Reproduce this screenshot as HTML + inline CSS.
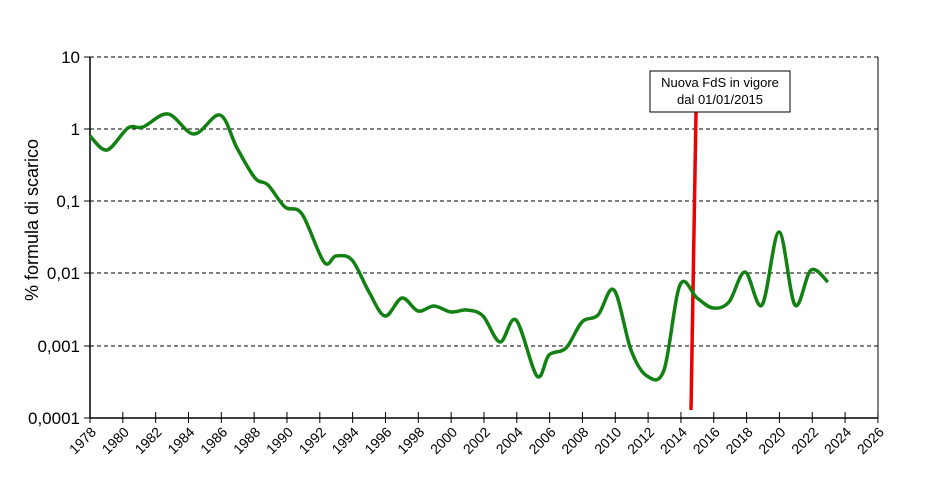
<!DOCTYPE html>
<html><head><meta charset="utf-8"><style>
body{margin:0;background:#fff;width:936px;height:492px;overflow:hidden}
text{font-family:"Liberation Sans",sans-serif}
</style></head><body>
<svg width="936" height="492" xmlns="http://www.w3.org/2000/svg">
<g stroke="#000" stroke-width="1" stroke-dasharray="4,3">
<line x1="90" y1="57" x2="878" y2="57"/>
<line x1="90" y1="129" x2="878" y2="129"/>
<line x1="90" y1="201" x2="878" y2="201"/>
<line x1="90" y1="273" x2="878" y2="273"/>
<line x1="90" y1="346" x2="878" y2="346"/>
</g>
<line x1="878" y1="57" x2="878" y2="418" stroke="#000"/>
<line x1="90" y1="57" x2="90" y2="418" stroke="#000" stroke-width="1.5"/>
<line x1="90" y1="418" x2="878" y2="418" stroke="#000" stroke-width="1.5"/>
<g font-size="17" text-anchor="end">
<text x="80" y="63">10</text><text x="80" y="135">1</text><text x="80" y="207">0,1</text>
<text x="80" y="279">0,01</text><text x="80" y="352">0,001</text><text x="80" y="424">0,0001</text>
</g>
<g stroke="#000" stroke-width="1">
<line x1="84" y1="57" x2="90" y2="57"/><line x1="84" y1="129" x2="90" y2="129"/><line x1="84" y1="201" x2="90" y2="201"/><line x1="84" y1="273" x2="90" y2="273"/><line x1="84" y1="346" x2="90" y2="346"/><line x1="84" y1="418" x2="90" y2="418"/>
</g>
<g id="xt"></g>
<text transform="translate(38,220) rotate(-90)" font-size="18" text-anchor="middle">% formula di scarico</text>
<line x1="696" y1="112" x2="691" y2="410" stroke="#ee0000" stroke-width="3.5"/>
<rect x="650" y="71" width="140" height="41" fill="#fff" stroke="#000" stroke-width="1"/>
<text x="720" y="87" font-size="13" text-anchor="middle">Nuova FdS in vigore</text>
<text x="720" y="104" font-size="13" text-anchor="middle">dal 01/01/2015</text>
<path id="cv" fill="none" stroke="#138013" stroke-width="3.5" stroke-linejoin="round"/>
</svg>
<script>
var xt=document.getElementById('xt'),s='';
for(var i=0;i<=24;i++){var x=90+i*32.83;
s+='<line x1="'+x+'" y1="412" x2="'+x+'" y2="423" stroke="#000"/>';
s+='<text transform="translate('+(x+7)+',433) rotate(-45)" font-size="14" text-anchor="end">'+(1978+2*i)+'</text>';}
xt.innerHTML=s;
var p=[[90,136],[107,150],[128,128],[143,127],[168,114],[194,134],[220,115],[237,148],[255,178],[268,185],[285,207],[302,214],[324,262],[336,256],[352,260],[369,292],[385,316],[402,298],[418,311],[434,306],[451,312],[467,310],[483,316],[500,342],[516,320],[537,376],[549,355],[566,348],[582,322],[598,315],[614,290],[631,350],[647,376],[664,370],[680,285],[697,298],[713,308],[729,302],[745,272],[762,305],[779,232],[795,305],[811,270],[828,282]];
var d='M'+p[0][0]+','+p[0][1];
for(var i=0;i<p.length-1;i++){var a=p[Math.max(i-1,0)],b=p[i],c=p[i+1],e=p[Math.min(i+2,p.length-1)];
d+=' C'+(b[0]+(c[0]-a[0])/6)+','+(b[1]+(c[1]-a[1])/6)+' '+(c[0]-(e[0]-b[0])/6)+','+(c[1]-(e[1]-b[1])/6)+' '+c[0]+','+c[1];}
document.getElementById('cv').setAttribute('d',d);
</script>
</body></html>
